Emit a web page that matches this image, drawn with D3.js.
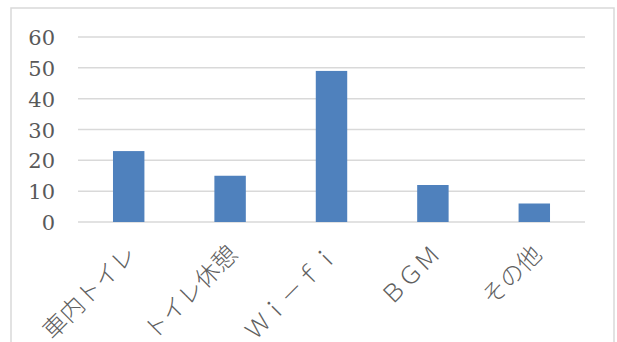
<!DOCTYPE html>
<html><head><meta charset="utf-8">
<script src="https://cdn.jsdelivr.net/npm/d3@7"></script>
<style>body{margin:0;background:#fff;} svg{display:block;}</style>
</head><body>
<svg id="c" width="617" height="342"></svg>
<script>
const categories = ["車内トイレ", "トイレ休憩", "Ｗｉ－ｆｉ", "ＢＧＭ", "その他"];
const values = [23, 15, 49, 12, 6];
const yTicks = [0, 10, 20, 30, 40, 50, 60];

const svg = d3.select("#c");
const plot = {left: 78, right: 585, top: 37, bottom: 222};
const font = "'DejaVu Serif', 'Noto Sans CJK JP', serif";
const textColor = "#595959";

// outer frame
svg.append("rect").attr("x", 11).attr("y", 8).attr("width", 603).attr("height", 350)
  .attr("fill", "#fff").attr("stroke", "#d9d9d9").attr("stroke-width", 1.5);

const x = d3.scaleBand().domain(categories).range([plot.left, plot.right]).paddingInner(0.69).paddingOuter(0.345);
const y = d3.scaleLinear().domain([0, 60]).range([plot.bottom, plot.top]);

// gridlines
svg.append("g").selectAll("line").data(yTicks).join("line")
  .attr("x1", plot.left).attr("x2", plot.right)
  .attr("y1", d => y(d)).attr("y2", d => y(d))
  .attr("stroke", "#d9d9d9").attr("stroke-width", 1.5);

// y axis labels
const yAxis = d3.axisLeft(y).tickValues(yTicks).tickSize(0).tickPadding(0);
const yg = svg.append("g").attr("transform", `translate(55,0)`).call(yAxis);
yg.select(".domain").remove();
yg.selectAll("text").attr("font-family", font).attr("font-size", 21).attr("fill", textColor).attr("dy", "0.36em");

// bars
svg.append("g").selectAll("rect").data(values).join("rect")
  .attr("x", (d, i) => x(categories[i]))
  .attr("width", x.bandwidth())
  .attr("y", d => y(d))
  .attr("height", d => y(0) - y(d))
  .attr("fill", "#4f81bd");

// x labels
const xAxis = d3.axisBottom(x).tickSize(0).tickPadding(0);
const xg = svg.append("g").attr("transform", `translate(0,${plot.bottom})`).call(xAxis);
xg.select(".domain").remove();
xg.selectAll("text")
  .attr("font-family", "'Noto Sans CJK JP', sans-serif").attr("font-weight", 300)
  .attr("font-size", 24).attr("fill", "#606060")
  .attr("text-anchor", "end")
  .attr("transform", "translate(-3,22) rotate(-45)")
  .attr("y", 0).attr("dy", "0.7em");
</script>
</body></html>
